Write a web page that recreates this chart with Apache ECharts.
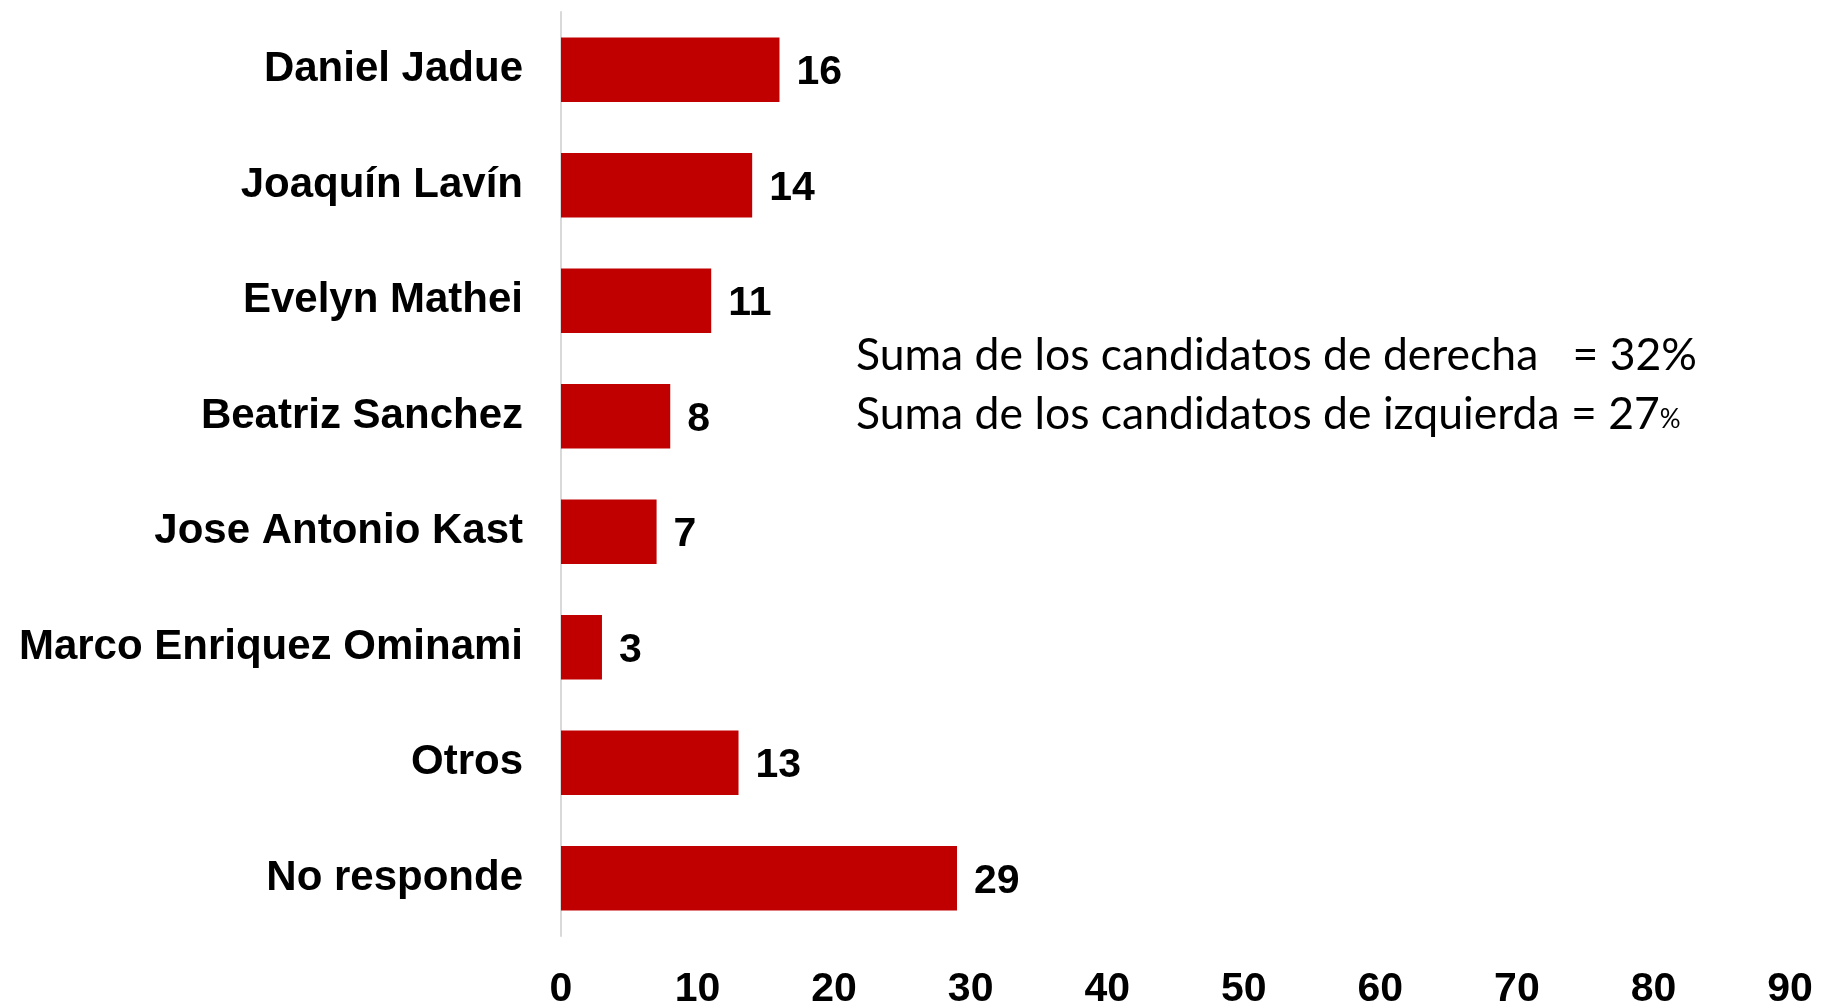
<!DOCTYPE html>
<html>
<head>
<meta charset="utf-8">
<script src="https://cdn.jsdelivr.net/npm/echarts@6/dist/echarts.min.js"></script>
<style>
html,body{margin:0;padding:0;background:#fff;}
#chart{width:1821px;height:1004px;}
</style>
</head>
<body>
<div id="chart"></div>
<script>
const categories = ['Daniel Jadue','Joaquín Lavín','Evelyn Mathei','Beatriz Sanchez','Jose Antonio Kast','Marco Enriquez Ominami','Otros','No responde'];
const values = [16, 14, 11, 8, 7, 3, 13, 29];
const noteLine1 = 'Suma de los candidatos de derecha   = 32%';
const noteLine2Main = 'Suma de los candidatos de izquierda = 27';
const noteLine2Pct = '%';

const chart = echarts.init(document.getElementById('chart'));
chart.setOption({
  animation: false,
  backgroundColor: '#ffffff',
  grid: {left: 561, right: 31, top: 12, bottom: 68, containLabel: false, outerBoundsMode: 'none'},
  xAxis: {
    type: 'value', min: 0, max: 90, interval: 10,
    axisLine: {show: false}, axisTick: {show: false}, splitLine: {show: false},
    axisLabel: {color: '#000', fontSize: 41, fontWeight: 'bold', fontFamily: 'Liberation Sans, Arial, sans-serif', margin: 33}
  },
  yAxis: {
    type: 'category', data: categories, inverse: true,
    axisLine: {show: true, lineStyle: {color: '#d9d9d9', width: 2}},
    axisTick: {show: false},
    axisLabel: {color: '#000', fontSize: 42, fontWeight: 'bold', fontFamily: 'Liberation Sans, Arial, sans-serif', margin: 38, padding: [14, 0, 0, 0]}
  },
  series: [{
    type: 'bar', data: values, barCategoryGap: '44%',
    itemStyle: {color: '#C00000'},
    label: {show: true, position: 'right', distance: 17, offset: [0, 3], color: '#000', fontSize: 41, fontWeight: 'bold', fontFamily: 'Liberation Sans, Arial, sans-serif'}
  }],
  graphic: [
    {type: 'text', left: 856, top: 333, style: {text: noteLine1, fontSize: 44.5, fontFamily: 'Lato, sans-serif', fill: '#000'}},
    {type: 'text', left: 856, top: 392, style: {
      text: '{a|' + noteLine2Main + '}{b|' + noteLine2Pct + '}',
      rich: {
        a: {fontSize: 44.5, fontFamily: 'Lato, sans-serif', fill: '#000', color: '#000'},
        b: {fontSize: 26, fontFamily: 'Lato, sans-serif', fill: '#000', color: '#000', verticalAlign: 'bottom', padding: [0,0,4,0]}
      }
    }}
  ]
});
</script>
</body>
</html>
